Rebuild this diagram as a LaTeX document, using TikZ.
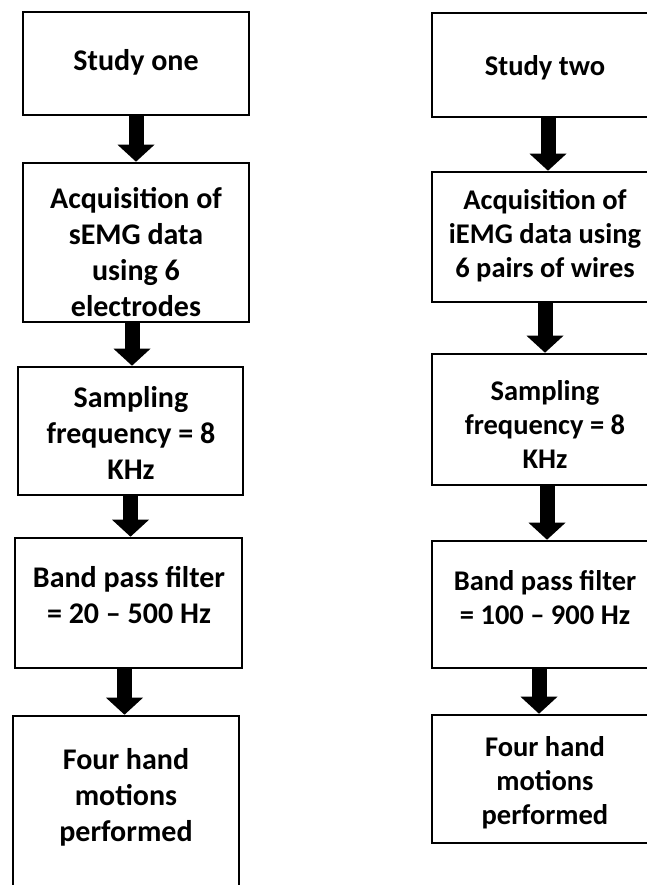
\documentclass[tikz,border=0pt]{standalone}
\usepackage{fontspec}
\setmainfont{Carlito}
\usetikzlibrary{arrows.meta}

\begin{document}
\begin{tikzpicture}[x=1pt,y=-1pt,
		stage/.style={draw,line width=2.6pt,minimum width=226pt,inner sep=0pt},
		lbl/.style={align=center,inner sep=0pt,font=\fontsize{30}{36}\selectfont\bfseries},
		lblr/.style={align=center,inner sep=0pt,font=\fontsize{28.5}{34}\selectfont\bfseries},
		flow/.style={line width=15pt,-{Triangle[width=37pt,length=17pt,line width=0pt]}}]
		\useasboundingbox (0,0) rectangle (647,885);
		\clip (0,0) rectangle (647,885);

		\node[stage,minimum height=103pt] (a1) at (136,63.5) {};
		\node[stage,minimum height=159pt] (a2) at (136,242.5) {};
		\node[stage,minimum height=128pt,minimum width=225pt] (a3) at (130.5,431) {};
		\node[stage,minimum height=130pt,minimum width=227pt] (a4) at (128.5,603) {};
		\node[stage,minimum height=200pt] (a5) at (126,816) {};

		\node[lbl] (la1) at (136,62) {Study one};
		\node[lbl] (la2) at (136,252) {Acquisition of\\sEMG data\\using 6\\electrodes};
		\node[lbl] (la3) at (131,433) {Sampling\\frequency = 8\\KHz};
		\node[lbl] (la4) at (129,595) {Band pass filter\\= 20 – 500 Hz};
		\node[lbl] (la5) at (126,797) {Four hand\\motions\\performed};

		\node[stage,minimum height=104pt] (b1) at (545,65) {};
		\node[stage,minimum height=130pt] (b2) at (545,237) {};
		\node[stage,minimum height=131pt] (b3) at (545,419.5) {};
		\node[stage,minimum height=127pt] (b4) at (545,604.5) {};
		\node[stage,minimum height=128pt] (b5) at (545,779) {};

		\node[lblr] (lb1) at (545,68) {Study two};
		\node[lblr] (lb2) at (545,236) {Acquisition of\\iEMG data using\\6 pairs of wires};
		\node[lblr] (lb3) at (545,424) {Sampling\\frequency = 8\\KHz};
		\node[lblr] (lb4) at (545,598) {Band pass filter\\= 100 – 900 Hz};
		\node[lblr] (lb5) at (545,783) {Four hand\\motions\\performed};

		\draw[flow] (a1.south) -- (a1.south |- a2.north);
		\draw[flow] ([xshift=-4pt]a2.south) -- ([xshift=-4pt]a2.south |- a3.north);
		\draw[flow] (a3.south) -- (a3.south |- a4.north);
		\draw[flow] ([xshift=-4pt]a4.south) -- ([xshift=-4pt]a4.south |- a5.north);

		\draw[flow] ([xshift=3pt]b1.south) -- ([xshift=3pt]b1.south |- b2.north);
		\draw[flow] (b2.south) -- (b2.south |- b3.north);
		\draw[flow] ([xshift=2pt]b3.south) -- ([xshift=2pt]b3.south |- b4.north);
		\draw[flow] ([xshift=-6pt]b4.south) -- ([xshift=-6pt]b4.south |- b5.north);

	\end{tikzpicture}
\end{document}
